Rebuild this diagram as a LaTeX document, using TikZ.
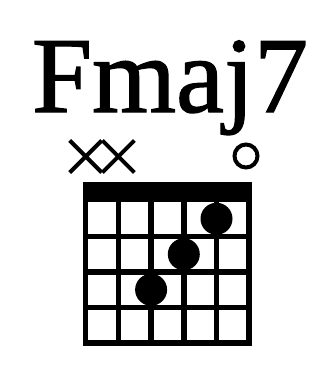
\documentclass[tikz,border=0pt]{standalone}
\usepackage{fontspec}
\setmainfont{Liberation Serif}
\newfontfamily\titlefont[FakeBold=1.2]{Liberation Serif}
\usepackage{tikz}
\usetikzlibrary{positioning,calc}

\begin{document}
\begin{tikzpicture}[x=1pt,y=-1pt,
  gridline/.style={line width=5.5pt, line cap=rect},
  fingerdot/.style={fill=black},
  mutemark/.style={line width=4pt},
  openmark/.style={line width=4pt}]
  \useasboundingbox (0,0) rectangle (325,365);
  % chord name
  \node[anchor=base, inner sep=0pt, font=\titlefont\fontsize{108}{108}\selectfont] (title) at (170,112) {Fmaj7};
  % string ends
  \foreach \s in {0,...,5}{
    \coordinate (top\s) at (85.7+32.7*\s, 200);
    \coordinate (bot\s) at (85.7+32.7*\s, 343);
  }
  % strings
  \foreach \s in {0,...,5}{
    \draw[gridline] (top\s) -- (bot\s);
  }
  % frets
  \foreach \f in {1,...,4}{
    \draw[gridline] (85.7, 201+35.5*\f) -- (249.2, 201+35.5*\f);
  }
  % nut
  \fill (83.2,182) rectangle (251.7,202);
  % muted strings
  \foreach \s in {0,1}{
    \draw[mutemark] ($(top\s)+(-16,-59.5)$) -- ++(32,32)
                    ($(top\s)+(16,-59.5)$) -- ++(-32,32);
  }
  % open string
  \draw[openmark] (246,156) circle (11.5);
  % fingers
  \foreach \x/\y in {216.5/218.75, 183.8/254.25, 151.1/289.75}{
    \fill[fingerdot] (\x,\y) circle (16);
  }
\end{tikzpicture}
\end{document}
